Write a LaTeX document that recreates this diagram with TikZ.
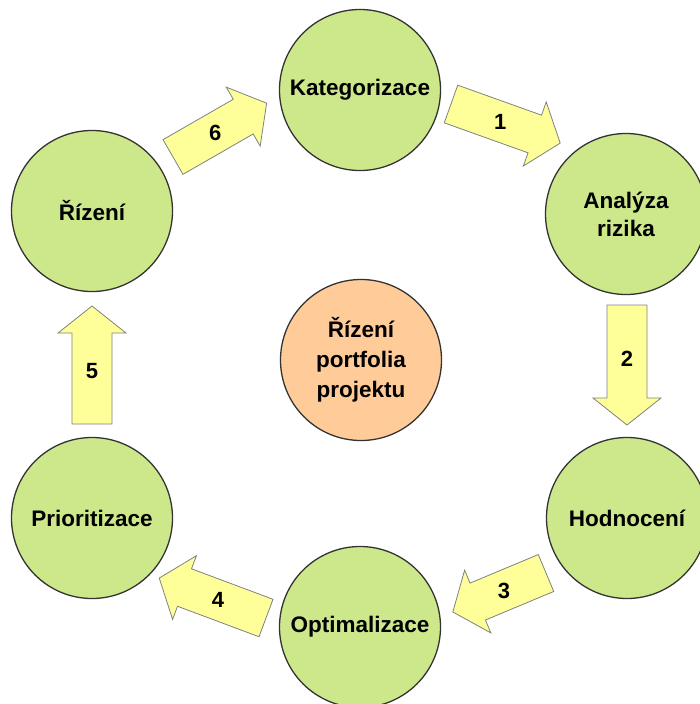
\documentclass[tikz,border=0pt]{standalone}
\usepackage{fontspec}
\setmainfont{Liberation Sans}
\definecolor{stepgreen}{RGB}{204,232,138}
\definecolor{coreorange}{RGB}{255,204,153}
\definecolor{arrowyellow}{RGB}{255,255,153}
\tikzset{
  phase/.style={circle, draw=black!80, line width=1.3pt, fill=stepgreen,
    minimum size=161pt, inner sep=0pt, align=center,
    font=\fontsize{22.5}{28}\selectfont\bfseries},
  core/.style={phase, fill=coreorange, font=\fontsize{22.5}{30}\selectfont\bfseries},
  blockarr/.style={draw=black!50, line width=0.8pt, fill=arrowyellow, line join=miter},
  numlbl/.style={inner sep=0pt, font=\fontsize{22}{24}\selectfont\bfseries}
}
% block arrow: #1 label name, #2 tail centre, #3 direction, #4 length, #5 number
\newcommand{\blockarrow}[5]{%
  \begin{scope}[shift={#2}, rotate=#3]
    \draw[blockarr] (0,-20) -- ({#4-27},-20) -- ({#4-27},-34) -- (#4,0)
      -- ({#4-27},34) -- ({#4-27},20) -- (0,20) -- cycle;
    \node[numlbl] (#1) at ({0.45*#4},0) {#5};
  \end{scope}}
\begin{document}
\begin{tikzpicture}[x=1pt, y=-1pt]
  \useasboundingbox (0,0) rectangle (699,704);
  % process steps
  \node[phase] (kat)  at (360,90)  {Kategorizace};
  \node[phase] (ana)  at (626,214) {Analýza\\rizika};
  \node[phase] (hod)  at (627,518) {Hodnocení};
  \node[phase] (opt)  at (360,627) {Optimalizace};
  \node[phase] (pri)  at (92,518)  {Prioritizace};
  \node[phase] (riz)  at (92,211)  {Řízení};
  \node[core]  (port) at (361,360) {Řízení\\portfolia\\projektu};
  % cycle arrows
  \blockarrow{n1}{(451,104)}{-19.7}{116}{1}
  \blockarrow{n2}{(627,305)}{-90}{120}{2}
  \blockarrow{n3}{(546,573)}{-157.3}{101}{3}
  \blockarrow{n4}{(266,618)}{159.5}{114}{4}
  \blockarrow{n5}{(92,424)}{90}{118}{5}
  \blockarrow{n6}{(173,157)}{29.9}{108}{6}
\end{tikzpicture}
\end{document}
